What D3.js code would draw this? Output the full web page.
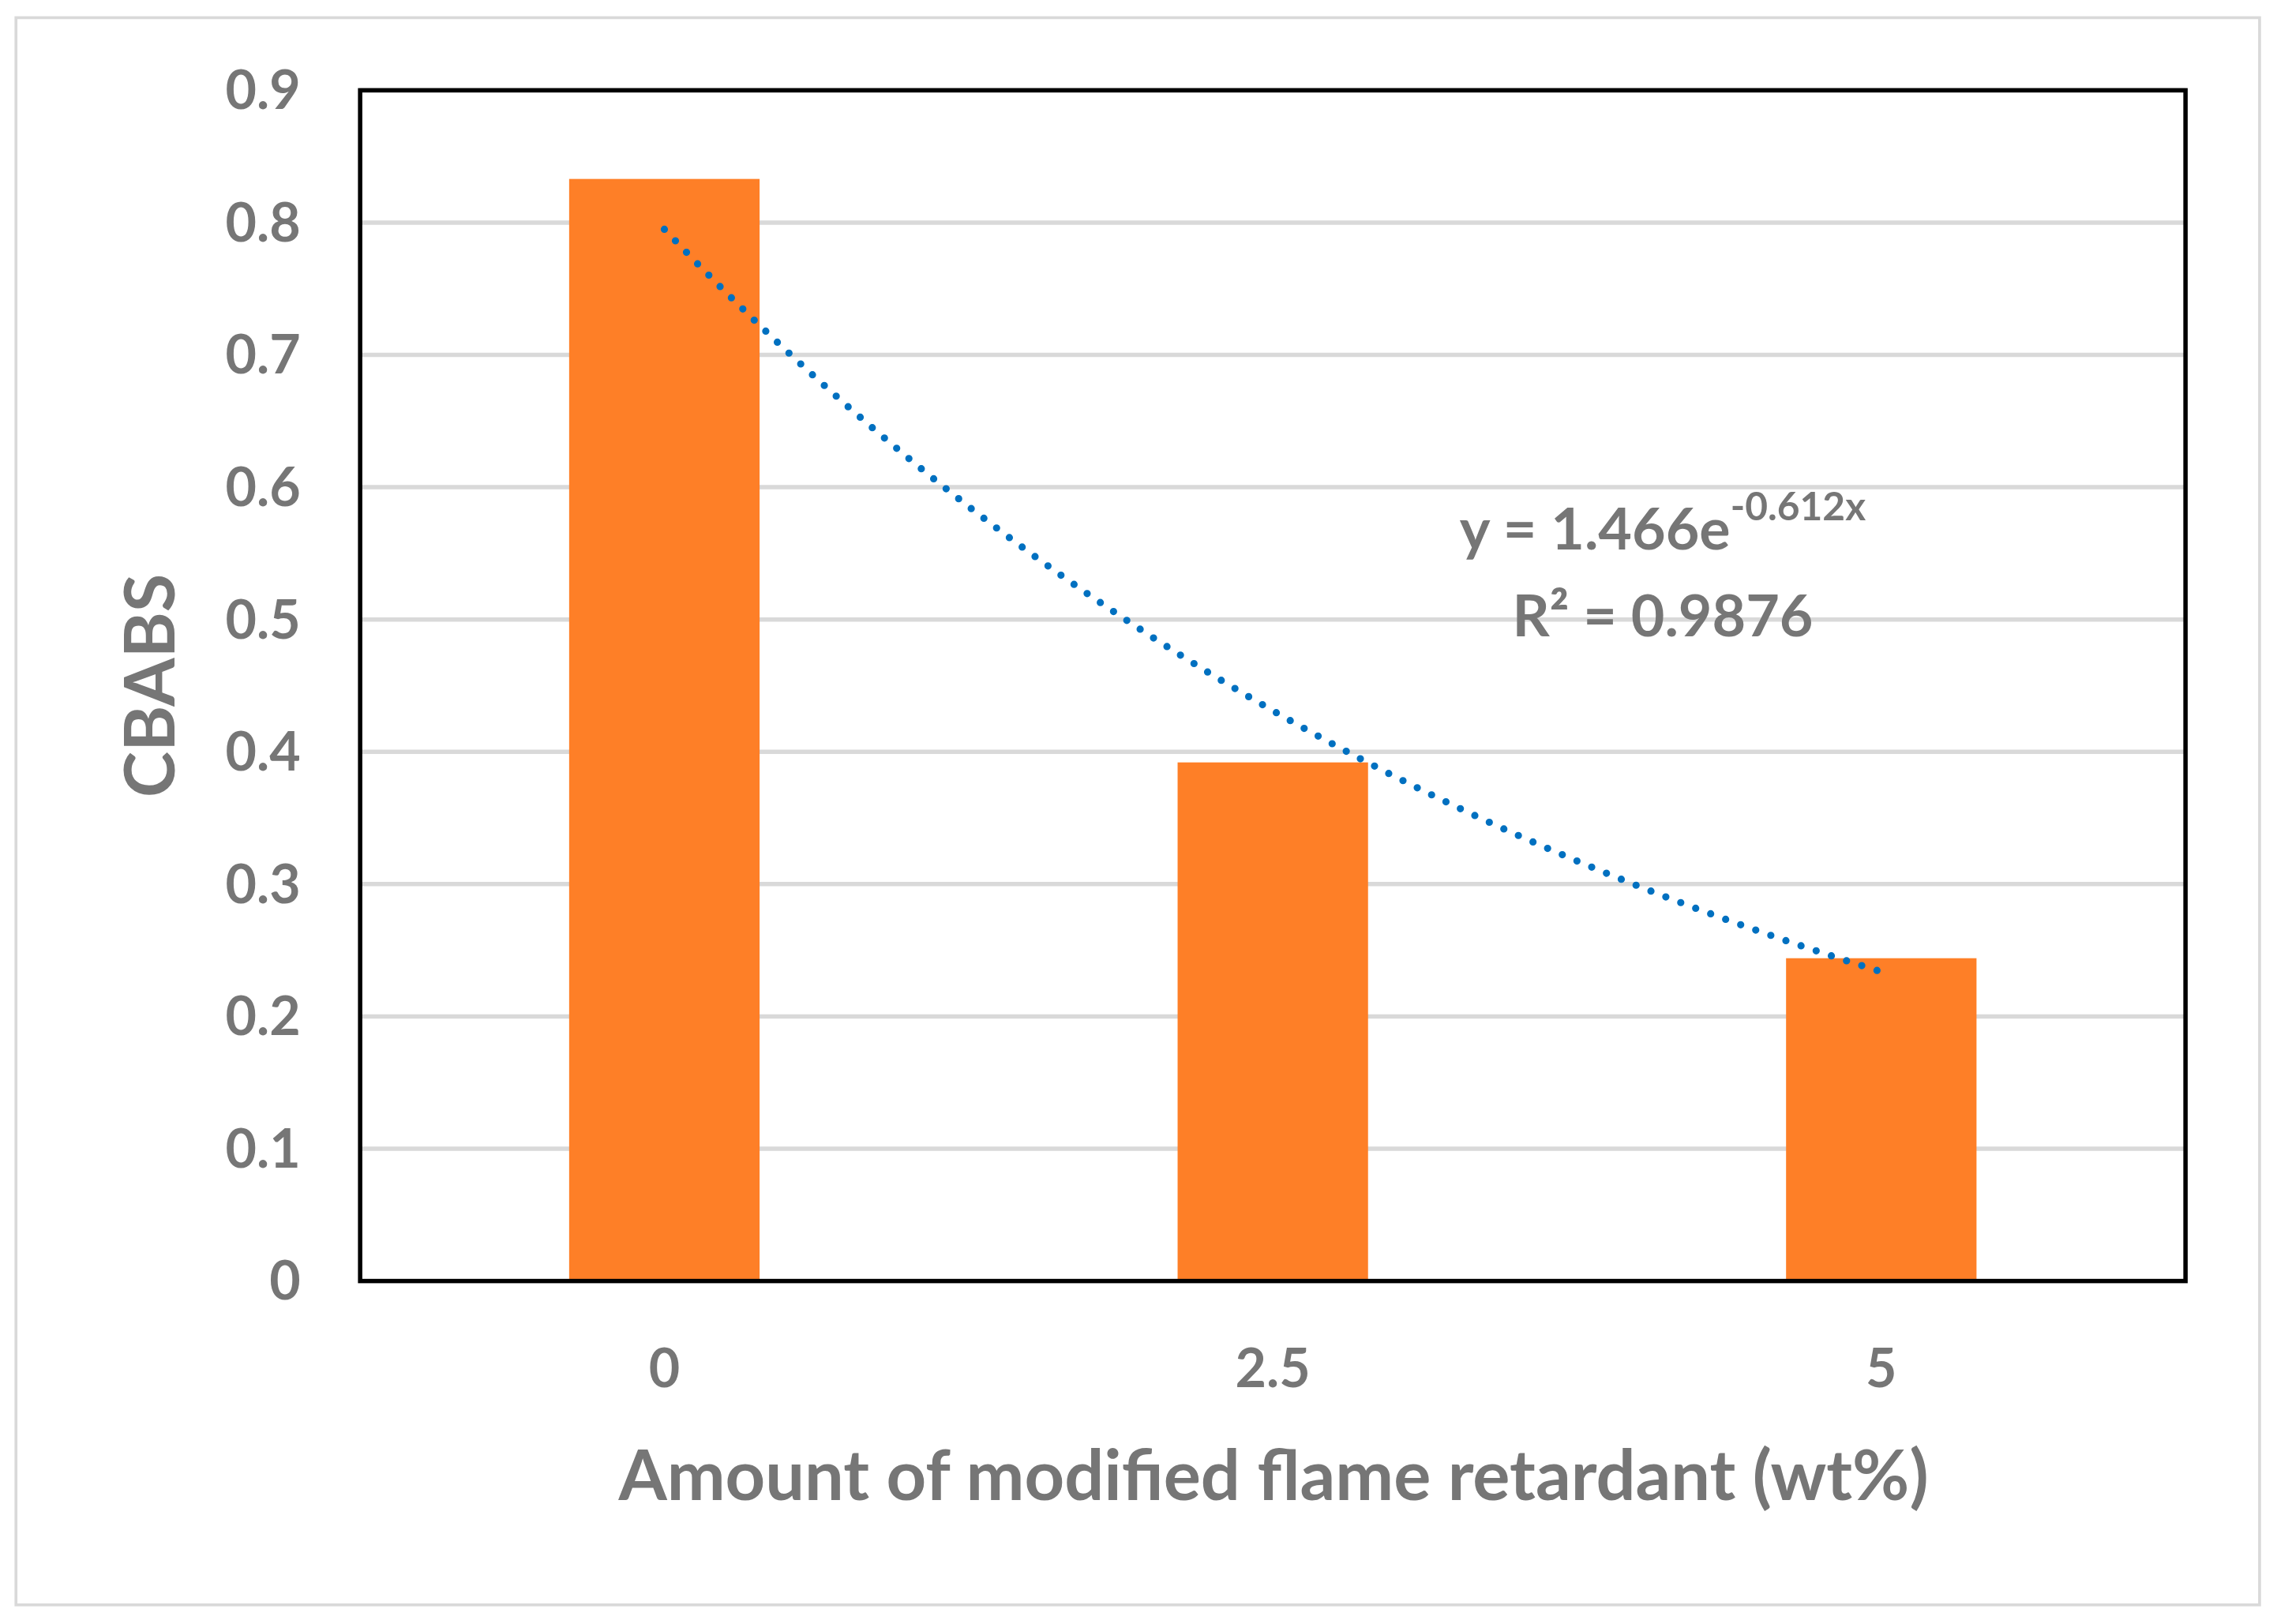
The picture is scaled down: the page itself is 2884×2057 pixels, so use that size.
<!DOCTYPE html>
<html><head><meta charset="utf-8">
<script src="https://cdn.jsdelivr.net/npm/d3@7"></script>
<style>html,body{margin:0;padding:0;background:#fff}</style>
</head><body>
<script>
const categories = ["0", "2.5", "5"];
const values = [0.833, 0.392, 0.244];
const yTicks = [0,0.1,0.2,0.3,0.4,0.5,0.6,0.7,0.8,0.9];
const trendA = 1.466, trendB = -0.612; // y = 1.466e^(-0.612x), x = category index 1..3
const trendSteps = d3.range(0, 2.0001, 0.05);

const W = 1568, H = 1118;
const svg = d3.select("body").append("svg")
  .attr("width", 2884).attr("height", 2057)
  .attr("viewBox", `0 0 ${W} ${H}`);
svg.append("rect").attr("x",0).attr("y",0).attr("width",W).attr("height",H).attr("fill","#fff");
svg.append("rect").attr("x",11).attr("y",12).attr("width",1545).attr("height",1093)
  .attr("fill","none").attr("stroke","#d9d9d9").attr("stroke-width",2);

const L=248,R=1505,T=62,B=882;
const x = d3.scaleBand().domain(categories).range([L,R]).paddingInner(0.687).paddingOuter(0.3435);
const y = d3.scaleLinear().domain([0,0.9]).range([B,T]);
const font = "Lato, 'Open Sans', sans-serif", gray="#767676";

svg.append("g").selectAll("line").data(yTicks.slice(1)).join("line")
  .attr("x1",L).attr("x2",R).attr("y1",d=>y(d)).attr("y2",d=>y(d))
  .attr("stroke","#d9d9d9").attr("stroke-width",3);

svg.append("g").selectAll("rect").data(values).join("rect")
  .attr("x",(d,i)=>x(categories[i])).attr("width",x.bandwidth())
  .attr("y",d=>y(d)).attr("height",d=>B-y(d)).attr("fill","#fe7f27");

// trendline
const xc = i => x(categories[0]) + x.bandwidth()/2 + i*(x.step());
svg.append("path").datum(trendSteps)
  .attr("d", d3.line().x(t=>xc(t)).y(t=>y(trendA*Math.exp(trendB*(t+1)))))
  .attr("fill","none").attr("stroke","#0070c0").attr("stroke-width",5)
  .attr("stroke-linecap","round").attr("stroke-dasharray","0 11");

svg.append("rect").attr("x",L).attr("y",T).attr("width",R-L).attr("height",B-T)
  .attr("fill","none").attr("stroke","#000").attr("stroke-width",3);

svg.append("g").selectAll("text").data(yTicks).join("text")
  .attr("x",207).attr("y",d=>y(d)+13).attr("text-anchor","end")
  .attr("font-family",font).attr("font-weight","bold").attr("font-size",37).attr("fill",gray)
  .text(d=>d3.format("")(d));
svg.append("g").selectAll("text").data(categories).join("text")
  .attr("x",d=>x(d)+x.bandwidth()/2).attr("y",955).attr("text-anchor","middle")
  .attr("font-family",font).attr("font-weight","bold").attr("font-size",37).attr("fill",gray)
  .text(d=>d);

svg.append("text").attr("x",877).attr("y",1033).attr("text-anchor","middle")
  .attr("font-family",font).attr("font-weight","bold").attr("font-size",48).attr("fill",gray)
  .text("Amount of modified flame retardant (wt%)");
svg.append("text").attr("transform","translate(120,472) rotate(-90)").attr("text-anchor","middle")
  .attr("font-family",font).attr("font-weight","bold").attr("font-size",48).attr("fill",gray)
  .text("CBABS");

const eq = svg.append("text").attr("x",1145).attr("y",378).attr("text-anchor","middle")
  .attr("font-family",font).attr("font-weight","bold").attr("font-size",40).attr("fill",gray);
eq.append("tspan").text("y = 1.466e");
eq.append("tspan").attr("dy",-20).attr("font-size",27).text("-0.612x");
svg.append("text").attr("x",1145).attr("y",438).attr("text-anchor","middle")
  .attr("font-family",font).attr("font-weight","bold").attr("font-size",40).attr("fill",gray)
  .text("R² = 0.9876");
</script>
</body></html>
